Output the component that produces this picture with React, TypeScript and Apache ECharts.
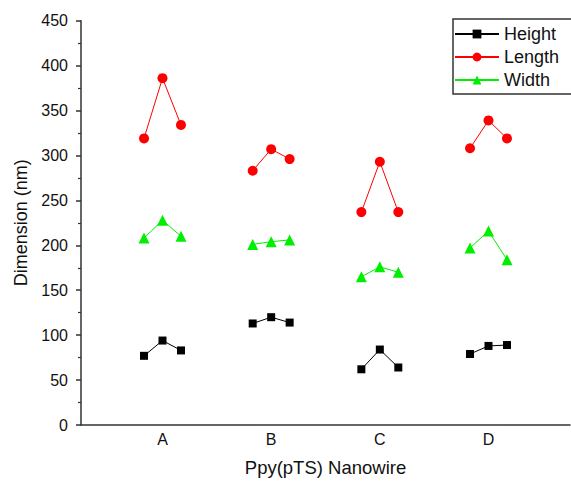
import React, { useEffect, useRef } from "react";
import * as echarts from "echarts";

const categories = ["A", "B", "C", "D"];
const offsets = [-0.17, 0, 0.17];
const yTicks = { min: 0, max: 450, interval: 50 };

const heightVals = [
  [77, 94, 83],
  [113, 120, 114],
  [62, 84, 64],
  [79, 88, 89],
];
const lengthVals = [
  [319, 386, 334],
  [283, 307, 296],
  [237, 293, 237],
  [308, 339, 319],
];
const widthVals = [
  [208, 228, 210],
  [201, 204, 206],
  [165, 176, 170],
  [197, 216, 184],
];

const seriesDefs = [
  { name: "Height", values: heightVals, color: "#000000", symbol: "rect", size: 8 },
  { name: "Length", values: lengthVals, color: "#ff0000", symbol: "circle", size: 10 },
  { name: "Width", values: widthVals, color: "#00ee00", symbol: "triangle", size: 11 },
];

const FONT = "'Liberation Sans', Arial, sans-serif";

export default function App() {
  const ref = useRef<HTMLDivElement>(null);
  useEffect(() => {
    if (!ref.current) return;
    const chart = echarts.init(ref.current, undefined, { renderer: "svg" });
    const series: any[] = [];
    seriesDefs.forEach((def) => {
      def.values.forEach((group, i) => {
        series.push({
          name: def.name,
          type: "line",
          data: group.map((v, j) => [i + 1 + offsets[j], v]),
          symbol: def.symbol,
          symbolSize: def.size,
          itemStyle: { color: def.color },
          lineStyle: { color: def.color, width: 1 },
          showSymbol: true,
        });
      });
    });
    chart.setOption({
      animation: false,
      backgroundColor: "#ffffff",
      textStyle: { fontFamily: FONT },
      grid: { left: 81, top: 20.7, right: 1, bottom: 57, containLabel: false },
      legend: {
        data: seriesDefs.map((d) => d.name),
        orient: "vertical",
        left: 453,
        top: 19,
        itemWidth: 44,
        itemHeight: 11,
        itemGap: 3,
        padding: [5, 14, 4, 1],
        borderColor: "#333",
        borderWidth: 1.5,
        borderRadius: 0,
        textStyle: { fontSize: 18, color: "#111", lineHeight: 20, fontFamily: FONT },
      },
      xAxis: {
        type: "value",
        min: 0.25,
        max: 4.75,
        interval: 0.25,
        name: "Ppy(pTS) Nanowire",
        nameLocation: "middle",
        nameGap: 33,
        nameTextStyle: { fontSize: 18.5, color: "#111", fontFamily: FONT },
        axisLine: { show: true, lineStyle: { color: "#333", width: 1.5 } },
        axisTick: { show: false },
        splitLine: { show: false },
        axisLabel: {
          fontSize: 16,
          color: "#111",
          margin: 6,
          showMinLabel: false,
          showMaxLabel: false,
          formatter: (v: number) => {
            const r = Math.round(v);
            return Math.abs(v - r) < 1e-6 && r >= 1 && r <= categories.length ? categories[r - 1] : "";
          },
        },
      },
      yAxis: {
        type: "value",
        min: yTicks.min,
        max: yTicks.max,
        interval: yTicks.interval,
        name: "Dimension (nm)",
        nameLocation: "middle",
        nameGap: 50,
        nameTextStyle: { fontSize: 18, color: "#111", fontFamily: FONT },
        axisLine: { show: true, lineStyle: { color: "#333", width: 1.5 } },
        axisTick: { show: true, inside: false, length: 5, lineStyle: { color: "#333", width: 1.5 } },
        minorTick: { show: true, splitNumber: 2, length: 3, lineStyle: { color: "#333", width: 1.2 } },
        splitLine: { show: false },
        axisLabel: { fontSize: 16, color: "#111", margin: 13 },
      },
      series,
    });
    return () => chart.dispose();
  }, []);
  return (
    <div
      ref={ref}
      style={{ position: "fixed", left: 0, top: 0, width: 571, height: 482, background: "#fff" }}
    />
  );
}
